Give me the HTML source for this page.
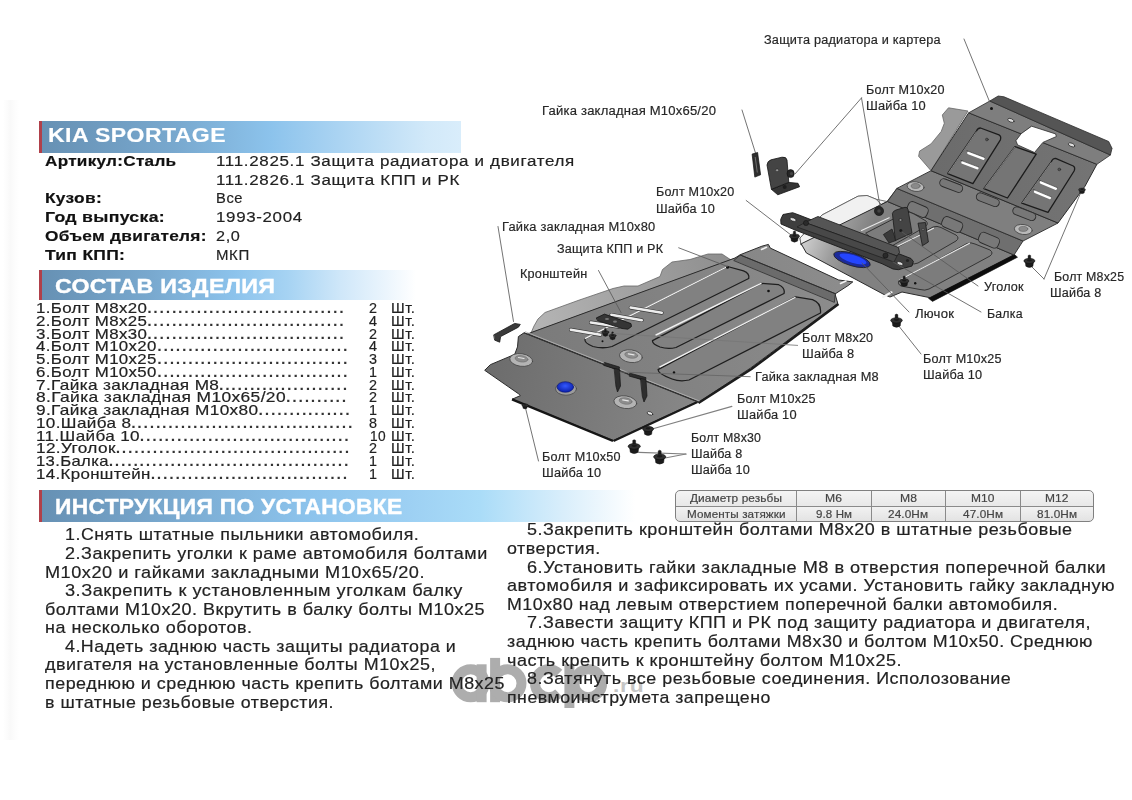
<!DOCTYPE html>
<html lang="ru"><head><meta charset="utf-8"><title>KIA SPORTAGE</title>
<style>
html,body{margin:0;padding:0;background:#fff;}
body{width:1132px;height:800px;position:relative;overflow:hidden;font-family:"Liberation Sans",sans-serif;}
.t{position:absolute;white-space:pre;margin:0;padding:0;transform-origin:0 0;}
.bar{position:absolute;}
.bar i{position:absolute;left:0;top:0;bottom:0;width:3px;background:#b0404a;}
#dg{position:absolute;left:0;top:0;width:1132px;height:800px;}
.t{-webkit-text-stroke:0.18px currentColor;}
.hs{-webkit-text-stroke:0.4px #fff;}
#tbl{position:absolute;left:675px;top:489.5px;width:418.5px;height:32.5px;border:1.2px solid #808080;border-radius:5px;background:linear-gradient(180deg,#f4f4f4 0%,#e8e8e8 48%,#f2f2f2 52%,#e3e3e3 100%);box-sizing:border-box;overflow:hidden;}
#tbl b{position:absolute;background:#8a8a8a;}
#wm2{position:absolute;left:612.5px;top:676.3px;font-size:19px;line-height:20px;font-weight:bold;letter-spacing:0.6px;color:#c6c6c6;transform-origin:0 0;transform:scaleX(1.2);}
#txt{position:absolute;left:0;top:0;width:1132px;height:800px;will-change:transform;}
</style></head><body>
<div id="shd" style="position:absolute;left:3px;top:100px;width:16px;height:640px;background:linear-gradient(90deg,#fff 0%,#f9f9f9 45%,#fcfcfc 70%,#fff 100%);"></div>
<div class="bar" style="left:39px;top:121px;width:422px;height:31.6px;background:linear-gradient(90deg,#6690b3 0%,#78a8ce 32%,#8cc3ec 55%,#b4d9f4 76%,#d2e9f9 92%,#d9edfb 100%);"><i></i></div>
<div class="bar" style="left:38.5px;top:269.5px;width:377.5px;height:30.7px;background:linear-gradient(90deg,#6690b3 0%,#79a9cf 30%,#8cc3ec 52%,#a6d3f3 66%,#cfe7f9 80%,#ebf5fd 92%,#fff 100%);"><i></i></div>
<div class="bar" style="left:39px;top:490.2px;width:596px;height:31.4px;background:linear-gradient(90deg,#6690b3 0%,#79a9cf 22%,#8cc3ec 45%,#9dd0f3 62%,#aadcf8 74%,#d9eefb 88%,#fff 100%);"><i></i></div>
<div id="tbl"><b style="left:0;right:0;top:15.3px;height:1.2px;"></b><b style="left:119.8px;top:0;bottom:0;width:1.2px;"></b><b style="left:194.5px;top:0;bottom:0;width:1.2px;"></b><b style="left:269.1px;top:0;bottom:0;width:1.2px;"></b><b style="left:344.2px;top:0;bottom:0;width:1.2px;"></b></div>
<svg id="wmk" viewBox="0 0 1132 800" width="1132" height="800" style="position:absolute;left:0;top:0;">
<g fill="none" stroke="#adadad" stroke-width="10">
<circle cx="470.65" cy="683.25" r="13.95"/>
<path d="M481.6,664.3 V702.2"/>
<path d="M495.1,657.9 V702.2"/>
<circle cx="507.55" cy="683.25" r="13.95"/>
<path d="M558.8,673.4 A13.95,13.95 0 1 0 558.8,693.1"/>
<path d="M569.4,664.3 V708"/>
<circle cx="588.25" cy="683.25" r="13.95"/>
</g>
</svg>
<div id="wm2">.ru</div>
<svg id="dg" viewBox="0 0 1132 800" width="1132" height="800">
<defs>
<linearGradient id="gFront" x1="485" y1="370" x2="700" y2="400" gradientUnits="userSpaceOnUse"><stop offset="0" stop-color="#6c6c6c"/><stop offset="0.5" stop-color="#7a7a7a"/><stop offset="1" stop-color="#888"/></linearGradient>
<linearGradient id="gRear" x1="540" y1="340" x2="840" y2="280" gradientUnits="userSpaceOnUse"><stop offset="0" stop-color="#7b7b7b"/><stop offset="1" stop-color="#8c8c8c"/></linearGradient>
<linearGradient id="gTW" x1="535" y1="320" x2="730" y2="255" gradientUnits="userSpaceOnUse"><stop offset="0" stop-color="#b4b4b4"/><stop offset="1" stop-color="#8e8e8e"/></linearGradient>
<linearGradient id="gInc" x1="931" y1="170" x2="1095" y2="165" gradientUnits="userSpaceOnUse"><stop offset="0" stop-color="#6b6b6b"/><stop offset="1" stop-color="#747474"/></linearGradient>
<radialGradient id="gBlue" cx="0.5" cy="0.4" r="0.6"><stop offset="0" stop-color="#3358ff"/><stop offset="1" stop-color="#0a1ea8"/></radialGradient>
<linearGradient id="gFlatC" x1="800" y1="243" x2="856" y2="266" gradientUnits="userSpaceOnUse"><stop offset="0" stop-color="#d2d2d2"/><stop offset="0.55" stop-color="#9c9c9c"/><stop offset="1" stop-color="#818181"/></linearGradient>
</defs>
<!-- ================= LOWER PLATE (KPP guard) ================= -->
<g id="lower" stroke-linejoin="round">
<!-- translucent side wall -->
<path d="M531,333 L534,326 L538,319 L545,312.5 L578,300.5 L613,288.5 L624,286 L638,286 L660,276.5 L662.5,269.5 L672,262 L690,259.5 L708,254 L722,254 L731,260 L736,258 Z" fill="url(#gTW)" stroke="#666" stroke-width="0.8"/>
<!-- rear plate -->
<path d="M527.5,334.2 L531,332.6 L735,258 L740.3,254.7 L761.9,246.2 L768.4,244.4 L770.3,248.1 L838.7,280 L852.8,281.9 L848,285.6 L835,294 L837.8,303.4 L750.6,368 L698.7,402.2 Z" fill="url(#gRear)" stroke="#2b2b2b" stroke-width="1"/>
<path d="M838.5,304 L751.5,369 L698.5,403" stroke="#1c1c1c" stroke-width="2.4" fill="none"/>
<!-- front plate -->
<path d="M524,332.8 L697.5,401.5 L613.5,440.5 L512,399.3 L520.4,395.6 L518.4,393.7 L484.7,370.3 L490.3,364.7 L514.7,354.4 L517.5,346.9 L518.4,336.6 Z" fill="url(#gFront)" stroke="#2b2b2b" stroke-width="1"/>
<!-- thick bottom edge -->
<path d="M512,399.3 L613,441" stroke="#151515" stroke-width="2.4" fill="none"/>
<path d="M613.5,441 L697.5,402" stroke="#1a1a1a" stroke-width="2" fill="none"/>
<!-- fold line -->
<path d="M524,332.8 L698.7,402.2" stroke="#333" stroke-width="1.2" fill="none"/>
<path d="M525,331.6 L699.5,401" stroke="#b5b5b5" stroke-width="0.8" fill="none"/>
</g>
<!-- ===== lower plate details ===== -->
<g id="lowerD" stroke-linejoin="round" stroke-linecap="round">
<!-- flap -->
<path d="M734,260.3 L740.3,255 L835.3,293.7 L834.4,302 Z" fill="#6b6b6b" stroke="#2b2b2b" stroke-width="0.8"/>
<path d="M740.3,255 L835.3,293.7" stroke="#2b2b2b" stroke-width="0.9" fill="none"/>
<path d="M761.5,249.5 L766.5,247.3" stroke="#f2f2f2" stroke-width="1.6" fill="none"/>
<path d="M840.5,283.5 L846,281" stroke="#f2f2f2" stroke-width="1.6" fill="none"/>
<!-- rails -->
<path d="M585,339 L727.5,266.5 L743.5,270.8 Q750,273.5 748.7,278.5 L612,346.5 Q603,349 593,346.5 Q584,343 585,339 Z" fill="#818181" stroke="#1e1e1e" stroke-width="1.25"/>
<path d="M652.5,340.6 L761,283.4 L778.7,284.7 Q785.5,288 784,293.5 L676,347.5 Q668,349.5 660,347 Q652,344 652.5,340.6 Z" fill="#818181" stroke="#1e1e1e" stroke-width="1.25"/>
<path d="M658,369.6 L795.6,296.9 L812.5,299.7 Q821.5,303 820.5,313 L689,380 Q680,382 672,379 Q658,374 658,369.6 Z" fill="#818181" stroke="#1e1e1e" stroke-width="1.25"/>
<g stroke="#f0f0f0" stroke-width="1.4" fill="none">
<path d="M585.5,338.3 L727.5,266.5"/><path d="M656,335 L761,283.4"/><path d="M660,366.8 L795,297.5"/>
</g>
<circle cx="727.5" cy="267.3" r="1.5" fill="#111"/>
<circle cx="768.5" cy="291" r="1.3" fill="#111"/>
<circle cx="674" cy="372.5" r="1.2" fill="#111"/>
<!-- bracket slots (light) -->
<g stroke="#3a3a3a" stroke-width="3.8" fill="none">
<path d="M570.8,329.7 L600.3,334.8"/><path d="M590.8,322.5 L618.8,326.8"/><path d="M611.3,314.8 L641.8,320.2"/><path d="M630.6,307.6 L661.8,312.8"/>
</g>
<g stroke="#ededed" stroke-width="2.5" fill="none">
<path d="M570.8,329.7 L600.3,334.8"/><path d="M590.8,322.5 L618.8,326.8"/><path d="M611.3,314.8 L641.8,320.2"/><path d="M630.6,307.6 L661.8,312.8"/>
</g>
<!-- bracket -->
<path d="M596.6,317.8 L604.5,314.1 L631,323.6 L631.5,326.5 L627.9,329.2 L622,328.5 L598,320.8 Z" fill="#353535" stroke="#141414" stroke-width="0.8"/>
<ellipse cx="607" cy="319" rx="2" ry="1.1" fill="#777"/><ellipse cx="615" cy="321.7" rx="2" ry="1.1" fill="#777"/>
<g transform="translate(605.4 332.5) scale(0.62)"><path d="M-1.4,-2 L-1.4,-6.3 Q0,-7.6 1.4,-6.3 L1.4,-2 Z" fill="#1c1c1c" stroke="#111" stroke-width="0.4"/><path d="M-4.3,0.5 L4.3,0.5 L3.7,5 Q0,7.6 -3.7,5 Z" fill="#1b1b1b" stroke="#0c0c0c" stroke-width="0.5"/><ellipse cx="0" cy="-0.6" rx="5.8" ry="2.7" fill="#303030" stroke="#0f0f0f" stroke-width="0.6"/><ellipse cx="0" cy="-1.2" rx="2.6" ry="1.1" fill="#1a1a1a"/></g><g transform="translate(612.6 336) scale(0.62)"><path d="M-1.4,-2 L-1.4,-6.3 Q0,-7.6 1.4,-6.3 L1.4,-2 Z" fill="#1c1c1c" stroke="#111" stroke-width="0.4"/><path d="M-4.3,0.5 L4.3,0.5 L3.7,5 Q0,7.6 -3.7,5 Z" fill="#1b1b1b" stroke="#0c0c0c" stroke-width="0.5"/><ellipse cx="0" cy="-0.6" rx="5.8" ry="2.7" fill="#303030" stroke="#0f0f0f" stroke-width="0.6"/><ellipse cx="0" cy="-1.2" rx="2.6" ry="1.1" fill="#1a1a1a"/></g>
<circle cx="602.5" cy="341.3" r="1" fill="#111"/>
<!-- bumps -->
<g>
<ellipse cx="521.2" cy="360" rx="11.5" ry="6.3" transform="rotate(8 521.2 360)" fill="#b4b4b4" stroke="#444" stroke-width="0.8"/>
<ellipse cx="521.5" cy="358.8" rx="6.5" ry="3.2" transform="rotate(8 521.5 358.8)" fill="#8d8d8d" stroke="#666" stroke-width="0.5"/>
<path d="M518.5,357.5 L524,358.5" stroke="#e6e6e6" stroke-width="1.2"/>
<ellipse cx="630.9" cy="356.2" rx="11.5" ry="6.3" transform="rotate(8 630.9 356.2)" fill="#b4b4b4" stroke="#444" stroke-width="0.8"/>
<ellipse cx="631.2" cy="355" rx="6.5" ry="3.2" transform="rotate(8 631.2 355)" fill="#8d8d8d" stroke="#666" stroke-width="0.5"/>
<path d="M628.3,353.8 L634,354.8" stroke="#e6e6e6" stroke-width="1.2"/>
<ellipse cx="625.3" cy="402.2" rx="11.5" ry="6.3" transform="rotate(8 625.3 402.2)" fill="#b4b4b4" stroke="#444" stroke-width="0.8"/>
<ellipse cx="625.6" cy="401" rx="6.5" ry="3.2" transform="rotate(8 625.6 401)" fill="#8d8d8d" stroke="#666" stroke-width="0.5"/>
<path d="M622.7,399.8 L628.3,400.8" stroke="#e6e6e6" stroke-width="1.2"/>
</g>
<!-- blue plug -->
<ellipse cx="566" cy="388.8" rx="10.5" ry="6.4" fill="#9c9c9c" stroke="#444" stroke-width="0.7"/>
<ellipse cx="565.3" cy="387" rx="8.3" ry="5.3" fill="url(#gBlue)" stroke="#0a1470" stroke-width="0.6"/>
<!-- clips -->
<g fill="#2e2e2e" stroke="#161616" stroke-width="0.7">
<path d="M604.6,362.5 L619.5,367 L619,370 L604,365.5 Z"/>
<path d="M614.5,368.5 L619.5,369.5 L620.5,386 L617.5,392 L616,386.5 Z"/>
<path d="M630,373.2 L646,377.6 L645.5,380.6 L629.5,376.2 Z"/>
<path d="M640.8,378.5 L646,379.5 L647,396 L644,402 L642.4,396.5 Z"/>
</g>
<ellipse cx="650" cy="413.4" rx="3" ry="1.5" transform="rotate(20 650 413.4)" fill="#eee" stroke="#222" stroke-width="0.7"/>
<!-- detached nut M10x80 -->
<path d="M494,334.7 L514.7,323.4 L520.3,324.4 L518.4,327.2 L500.6,336.6 L499.7,342.2 L495,340.3 Z" fill="#3a3a3a" stroke="#161616" stroke-width="0.8"/>
</g>
<!-- ================= UPPER PLATE (radiator guard) ================= -->
<g id="upper" stroke-linejoin="round">
<!-- translucent wall near beam -->
<path d="M801,245 L800,238 L822,215 L858,196.2 L867,195.5 L876,199.2 L887,201.5 L895,192 L897,188.4 L887,201.5 Z" fill="#f3f3f3" stroke="#555" stroke-width="0.8"/>
<path d="M801,245 L800,238 L822,215 L858,196.2 L867,195.5 L876,199.2 L884,207 L887.5,201.5 L840,226 Z" fill="#f1f1f1" stroke="#555" stroke-width="0.8"/>
<!-- lower flat C -->
<path d="M887.5,201.5 L1014,255 L930.5,297.8 L902,292 L890,297 L884,294.5 L806.4,253 L801.2,243.8 Z" fill="url(#gFlatC)" stroke="#2b2b2b" stroke-width="1"/>
<path d="M1014.5,254.5 L1017.5,257.2 L932.5,301.4 L928.5,298.3 Z" fill="#0d0d0d" stroke="#0d0d0d" stroke-width="0.6"/>
<!-- band B (riser) -->
<path d="M896.9,188.4 L1023,241 L1014,255 L887.5,201.5 Z" fill="#6f6f6f" stroke="#2b2b2b" stroke-width="0.9"/>
<!-- band A (shelf) -->
<path d="M931,170.7 L1058,223 L1023,241 L896.9,188.4 Z" fill="#7f7f7f" stroke="#2b2b2b" stroke-width="0.9"/>
<!-- translucent side -->
<path d="M968,111 L948.5,107.8 L942.3,115 L944.3,123.3 L941.2,131.5 L931,143.9 L919.6,151.1 L918.6,156.3 L931,170.7 Z" fill="#9a9a9a" stroke="#666" stroke-width="0.8"/>
<!-- inclined face -->
<path d="M968.7,112.8 L1096.9,164.3 L1085,186.2 L1058,223 L931,170.7 Z" fill="url(#gInc)" stroke="#2b2b2b" stroke-width="1"/>
<!-- mid band -->
<path d="M968.7,112.8 L989.8,101 L1110.4,155 L1096.9,164.3 Z" fill="#7e7e7e" stroke="#2b2b2b" stroke-width="0.8"/>
<!-- top dark band -->
<path d="M989.8,101 L998.2,96 L1004,96.8 L1108.7,141.5 L1112,148.3 L1110.4,155 Z" fill="#555" stroke="#2b2b2b" stroke-width="0.8"/>
</g>
<!-- ===== upper plate details ===== -->
<g id="upperD" stroke-linejoin="round" stroke-linecap="round">
<!-- notch -->
<path d="M1031.9,126.3 L1055.6,133.9 L1056.4,136.5 L1042.9,142.4 L1034.5,152.5 L1017.6,144.9 L1015.9,140.7 L1021,133.9 Z" fill="#fff" stroke="#2b2b2b" stroke-width="0.8"/>
<ellipse cx="1010.9" cy="120.4" rx="3.4" ry="1.7" transform="rotate(22 1010.9 120.4)" fill="#ddd" stroke="#222" stroke-width="0.7"/>
<ellipse cx="1071.6" cy="144.9" rx="3.4" ry="1.7" transform="rotate(22 1071.6 144.9)" fill="#ddd" stroke="#222" stroke-width="0.7"/>
<circle cx="991.5" cy="108.6" r="1.5" fill="#111"/>
<!-- panels -->
<path d="M976.3,131.4 Q977.5,128 980.5,128 L999,134.8 Q1001.5,136 1000.4,139.8 L972.9,183.7 L947.6,173.6 Z" fill="#757575" stroke="#1c1c1c" stroke-width="1.3"/>
<path d="M976.3,131.9 L948.3,173.2" stroke="#aaa" stroke-width="0.7" fill="none"/>
<path d="M1015,146.6 L1036.2,154.2 L1007.5,198 L983.9,188.7 Z" fill="#757575" stroke="#1c1c1c" stroke-width="1.3"/>
<path d="M1014.6,147.4 L984.6,188.2" stroke="#aaa" stroke-width="0.7" fill="none"/>
<path d="M1051.3,161.8 Q1052.5,158.4 1055.6,158.4 L1073.3,166 Q1075.6,167.5 1074.1,171 L1048,212.4 L1021.8,203.1 Z" fill="#757575" stroke="#1c1c1c" stroke-width="1.3"/>
<path d="M1051.2,162.6 L1022.6,202.6" stroke="#aaa" stroke-width="0.7" fill="none"/>
<g stroke="#fff" stroke-width="2.9" fill="none">
<path d="M968.6,152.8 L983.2,158.4"/><path d="M962.7,162.4 L977.2,167.9"/>
<path d="M1041.2,182.3 L1055.6,188.4"/><path d="M1035.3,191.6 L1049.7,197.7"/>
</g>
<g stroke="#222" stroke-width="0.6" fill="none">
<path d="M967,150.8 L984.5,157.4"/><path d="M961,160.4 L978.5,167"/>
<path d="M1039.6,180.3 L1057,187.5"/><path d="M1033.7,189.6 L1051,196.8"/>
</g>
<circle cx="986.9" cy="139.5" r="1.4" fill="#555" stroke="#222" stroke-width="0.5"/>
<circle cx="1059.3" cy="169.4" r="1.4" fill="#555" stroke="#222" stroke-width="0.5"/>
<!-- band A slots -->
<g fill="#777" stroke="#2b2b2b" stroke-width="0.9">
<rect x="939.2" y="181.6" width="24" height="8" rx="4" transform="rotate(21 951.2 185.6)"/>
<rect x="975.8" y="195.7" width="24" height="8" rx="4" transform="rotate(21 987.8 199.7)"/>
<rect x="1012.3" y="209.7" width="24" height="8" rx="4" transform="rotate(21 1024.3 213.7)"/>
</g>
<!-- band B slots -->
<g fill="#787878" stroke="#2b2b2b" stroke-width="0.9">
<rect x="907.2" y="204" width="21" height="11" rx="4" transform="rotate(23 917.7 209.5)"/>
<rect x="941.7" y="219" width="21" height="11" rx="4" transform="rotate(23 952.2 224.5)"/>
<rect x="978.5" y="234.7" width="21" height="11" rx="4" transform="rotate(23 989 240.2)"/>
</g>
<!-- bumps -->
<g>
<ellipse cx="915.6" cy="186.6" rx="8.5" ry="4.8" transform="rotate(8 915.6 186.6)" fill="#b9b9b9" stroke="#444" stroke-width="0.8"/>
<ellipse cx="915.6" cy="186" rx="4.5" ry="2.5" fill="#8a8a8a" stroke="#555" stroke-width="0.5"/>
<ellipse cx="1023.3" cy="229.5" rx="9" ry="5" transform="rotate(8 1023.3 229.5)" fill="#b9b9b9" stroke="#444" stroke-width="0.8"/>
<ellipse cx="1023.3" cy="228.9" rx="4.5" ry="2.5" fill="#8a8a8a" stroke="#555" stroke-width="0.5"/>
</g>
</g>
<!-- ===== flat C rails ===== -->
<g id="flatC" fill="none" stroke-linejoin="round" stroke-linecap="round">
<path d="M866,233 L905,213 Q910,211 914,214 L926,221 Q929,224 925,227 L890,247 Q886,249 882,247 Z" fill="#7c7c7c" stroke="#2b2b2b" stroke-width="0.9"/>
<path d="M896,248 L933,227 Q937,225.5 941,227.5 L956,235 Q960,238 956,241 L918,263 Q914,265 910,263 L897,254 Q894,251 896,248 Z" fill="#7c7c7c" stroke="#2b2b2b" stroke-width="0.9"/>
<path d="M899,281 L967,243.5 Q971,242 975,244 L990,250 Q994,253 990,256 L929,289 Q925,291 920,289.5 L901,286 Q897,284 899,281 Z" fill="#7c7c7c" stroke="#2b2b2b" stroke-width="0.9"/>
<path d="M861.5,230.5 L889.2,217.7" stroke="#e8e8e8" stroke-width="1.1"/>
<path d="M897.5,246.2 L933.5,228.2" stroke="#e8e8e8" stroke-width="1.1"/>
<path d="M899.7,280 L969.5,243.2" stroke="#e8e8e8" stroke-width="1.1"/>
<!-- tab slots -->
<path d="M883,297 L891.5,292.3" stroke="#f4f4f4" stroke-width="2.2"/>
<path d="M883,297 L891.5,292.3" stroke="#333" stroke-width="3.4" stroke-opacity="0"/>
<circle cx="915.2" cy="283.2" r="1.2" fill="#111"/>
</g>
<!-- ===== beam, bracket, clip, hatch ===== -->
<g id="beam" stroke-linejoin="round">
<!-- blue hatch -->
<ellipse cx="852" cy="259.5" rx="19" ry="6.2" transform="rotate(17 852 259.5)" fill="#1b2a9a" stroke="#222" stroke-width="0.8"/>
<ellipse cx="853" cy="259" rx="14" ry="3.8" transform="rotate(17 853 259)" fill="#2445ff"/>
<!-- beam lower plate -->
<path d="M780.7,219.5 L783,214.5 L792.7,212.7 L799,215 L911,258.5 L913.4,261.5 L912,266 L898.4,269.7 L893,269 L882,263.7 L795,230 L781,224 Z" fill="#3e3e3e" stroke="#1a1a1a" stroke-width="0.9"/>
<!-- beam upper rail -->
<path d="M814.5,218 L818,216.5 L898.4,247.5 L899.5,252.5 L897,256 L805,222.5 Z" fill="#555" stroke="#1a1a1a" stroke-width="0.8"/>
<path d="M805,222.5 L897,256 L894,262 L797,227 Z" fill="#484848" stroke="#1a1a1a" stroke-width="0.6"/>
<ellipse cx="793" cy="219.5" rx="3.2" ry="1.6" transform="rotate(20 793 219.5)" fill="#ddd" stroke="#111" stroke-width="0.6"/>
<ellipse cx="900" cy="263.5" rx="3.2" ry="1.6" transform="rotate(20 900 263.5)" fill="#ddd" stroke="#111" stroke-width="0.6"/>
<circle cx="806" cy="223" r="2.6" fill="#2a2a2a" stroke="#111" stroke-width="0.5"/>
<circle cx="885.5" cy="255.5" r="2.6" fill="#2a2a2a" stroke="#111" stroke-width="0.5"/>
<circle cx="907.5" cy="260.5" r="1.6" fill="#222"/>
<!-- angle bracket (Уголок) -->
<path d="M883.4,234.5 L892,229 L896,240.5 L889,243 Z" fill="#3a3a3a" stroke="#1a1a1a" stroke-width="0.7"/>
<path d="M892.4,213.5 Q893,211 896,210 L905,207.3 Q907.6,207 908,209.5 L912,233 L895.4,240.5 Z" fill="#444" stroke="#1a1a1a" stroke-width="0.8"/>
<circle cx="900.5" cy="220" r="1.5" fill="#888" stroke="#111" stroke-width="0.5"/>
<circle cx="900.8" cy="230.5" r="1.5" fill="#1a1a1a"/>
<!-- thin clip -->
<path d="M918,223.2 L925.4,222.5 L928.4,242 L922.4,245.7 Z" fill="#4a4a4a" stroke="#1a1a1a" stroke-width="0.8"/>
<circle cx="923" cy="229.5" r="1.2" fill="#777" stroke="#111" stroke-width="0.4"/>
</g>
<!-- ===== loose parts, bolts, leaders ===== -->
<g id="leaders" stroke="#5a5a5a" stroke-width="0.85" fill="none" stroke-linecap="round">
<path d="M964,39 L989.5,101.5"/>
<path d="M742,110 L755.5,153"/>
<path d="M861.5,97.9 L795,174"/><path d="M861.5,97.9 L880.5,209"/>
<path d="M746.2,200.5 L791,235"/>
<path d="M498,226.5 L513.5,321.5"/>
<path d="M598.5,270.5 L621,312.5"/>
<path d="M678.7,247.8 L727.5,266.5"/>
<path d="M525,406 L538.5,461"/>
<path d="M797.6,345.4 L613,333.5" stroke="#777"/>
<path d="M750.2,376.7 L620,372" stroke="#666"/>
<path d="M731.9,406.4 L653,428.7" stroke="#808080" stroke-width="1.1"/>
<path d="M686,454 L638.7,452.4" stroke="#808080" stroke-width="1.1"/><path d="M686,454 L665,458" stroke="#808080" stroke-width="1.1"/>
<path d="M1044,279 L1081,192"/><path d="M1044,279 L1030,265"/>
<path d="M978,286 L902,232"/>
<path d="M909,312 L862,263"/>
<path d="M981,312 L893,262"/>
<path d="M921,354 L898,325"/>
</g>
<g id="loose" stroke-linejoin="round">
<!-- nut M10x65/20 -->
<path d="M752.1,154.1 L757.6,152.5 L760.6,174.8 L754.8,177.1 Z" fill="#2e2e2e" stroke="#111" stroke-width="0.7"/>
<path d="M755.2,157 L757.3,172.5" stroke="#777" stroke-width="0.9" fill="none"/>
<!-- angle bracket top-left -->
<path d="M771.4,189.3 L777.8,194.8 L799.6,186.7 L798,183.3 L788.8,182.4 Z" fill="#343434" stroke="#141414" stroke-width="0.8"/>
<path d="M767,165 Q767.3,161.2 771,159.8 L782,157.2 Q786.4,156.6 787,160 L788.8,182.4 L771.4,189.3 Z" fill="#444" stroke="#141414" stroke-width="0.8"/>
<circle cx="777.1" cy="170.2" r="1.3" fill="#aaa" stroke="#111" stroke-width="0.4"/>
<circle cx="784.7" cy="187" r="2" fill="#1e1e1e"/>
<ellipse cx="790.6" cy="173.6" rx="3.6" ry="4" fill="#262626" stroke="#111" stroke-width="0.6"/><circle cx="791.5" cy="173.6" r="1.6" fill="#444"/>
<circle cx="879" cy="211" r="4.6" fill="#262626" stroke="#111" stroke-width="0.6"/><circle cx="879" cy="211" r="1.8" fill="#444"/>
<g transform="translate(794.5 236.8) scale(0.85)"><path d="M-1.4,-2 L-1.4,-6.3 Q0,-7.6 1.4,-6.3 L1.4,-2 Z" fill="#1c1c1c" stroke="#111" stroke-width="0.4"/><path d="M-4.3,0.5 L4.3,0.5 L3.7,5 Q0,7.6 -3.7,5 Z" fill="#1b1b1b" stroke="#0c0c0c" stroke-width="0.5"/><ellipse cx="0" cy="-0.6" rx="5.8" ry="2.7" fill="#303030" stroke="#0f0f0f" stroke-width="0.6"/><ellipse cx="0" cy="-1.2" rx="2.6" ry="1.1" fill="#1a1a1a"/></g>
<g transform="translate(904.2 281.5) scale(0.8)"><path d="M-1.4,-2 L-1.4,-6.3 Q0,-7.6 1.4,-6.3 L1.4,-2 Z" fill="#1c1c1c" stroke="#111" stroke-width="0.4"/><path d="M-4.3,0.5 L4.3,0.5 L3.7,5 Q0,7.6 -3.7,5 Z" fill="#1b1b1b" stroke="#0c0c0c" stroke-width="0.5"/><ellipse cx="0" cy="-0.6" rx="5.8" ry="2.7" fill="#303030" stroke="#0f0f0f" stroke-width="0.6"/><ellipse cx="0" cy="-1.2" rx="2.6" ry="1.1" fill="#1a1a1a"/></g>
<g transform="translate(1029.4 261.5) scale(0.95)"><path d="M-1.4,-2 L-1.4,-6.3 Q0,-7.6 1.4,-6.3 L1.4,-2 Z" fill="#1c1c1c" stroke="#111" stroke-width="0.4"/><path d="M-4.3,0.5 L4.3,0.5 L3.7,5 Q0,7.6 -3.7,5 Z" fill="#1b1b1b" stroke="#0c0c0c" stroke-width="0.5"/><ellipse cx="0" cy="-0.6" rx="5.8" ry="2.7" fill="#303030" stroke="#0f0f0f" stroke-width="0.6"/><ellipse cx="0" cy="-1.2" rx="2.6" ry="1.1" fill="#1a1a1a"/></g>
<g transform="translate(896.5 321) scale(1.0)"><path d="M-1.4,-2 L-1.4,-6.3 Q0,-7.6 1.4,-6.3 L1.4,-2 Z" fill="#1c1c1c" stroke="#111" stroke-width="0.4"/><path d="M-4.3,0.5 L4.3,0.5 L3.7,5 Q0,7.6 -3.7,5 Z" fill="#1b1b1b" stroke="#0c0c0c" stroke-width="0.5"/><ellipse cx="0" cy="-0.6" rx="5.8" ry="2.7" fill="#303030" stroke="#0f0f0f" stroke-width="0.6"/><ellipse cx="0" cy="-1.2" rx="2.6" ry="1.1" fill="#1a1a1a"/></g>
<g transform="translate(1082 190) scale(0.6)"><path d="M-4.3,0.5 L4.3,0.5 L3.7,5 Q0,7.6 -3.7,5 Z" fill="#1b1b1b" stroke="#0c0c0c" stroke-width="0.5"/><ellipse cx="0" cy="-0.6" rx="5.8" ry="2.7" fill="#303030" stroke="#0f0f0f" stroke-width="0.6"/><ellipse cx="0" cy="-1.2" rx="2.6" ry="1.1" fill="#1a1a1a"/></g>
<g transform="translate(648.1 429.5) scale(0.95)"><path d="M-4.3,0.5 L4.3,0.5 L3.7,5 Q0,7.6 -3.7,5 Z" fill="#1b1b1b" stroke="#0c0c0c" stroke-width="0.5"/><ellipse cx="0" cy="-0.6" rx="5.8" ry="2.7" fill="#303030" stroke="#0f0f0f" stroke-width="0.6"/><ellipse cx="0" cy="-1.2" rx="2.6" ry="1.1" fill="#1a1a1a"/></g>
<g transform="translate(634.2 447) scale(1.05)"><path d="M-1.4,-2 L-1.4,-6.3 Q0,-7.6 1.4,-6.3 L1.4,-2 Z" fill="#1c1c1c" stroke="#111" stroke-width="0.4"/><path d="M-4.3,0.5 L4.3,0.5 L3.7,5 Q0,7.6 -3.7,5 Z" fill="#1b1b1b" stroke="#0c0c0c" stroke-width="0.5"/><ellipse cx="0" cy="-0.6" rx="5.8" ry="2.7" fill="#303030" stroke="#0f0f0f" stroke-width="0.6"/><ellipse cx="0" cy="-1.2" rx="2.6" ry="1.1" fill="#1a1a1a"/></g>
<g transform="translate(659.7 457.5) scale(1.05)"><path d="M-1.4,-2 L-1.4,-6.3 Q0,-7.6 1.4,-6.3 L1.4,-2 Z" fill="#1c1c1c" stroke="#111" stroke-width="0.4"/><path d="M-4.3,0.5 L4.3,0.5 L3.7,5 Q0,7.6 -3.7,5 Z" fill="#1b1b1b" stroke="#0c0c0c" stroke-width="0.5"/><ellipse cx="0" cy="-0.6" rx="5.8" ry="2.7" fill="#303030" stroke="#0f0f0f" stroke-width="0.6"/><ellipse cx="0" cy="-1.2" rx="2.6" ry="1.1" fill="#1a1a1a"/></g>
<g transform="translate(525 405.5) scale(0.55)"><path d="M-4.3,0.5 L4.3,0.5 L3.7,5 Q0,7.6 -3.7,5 Z" fill="#1b1b1b" stroke="#0c0c0c" stroke-width="0.5"/><ellipse cx="0" cy="-0.6" rx="5.8" ry="2.7" fill="#303030" stroke="#0f0f0f" stroke-width="0.6"/><ellipse cx="0" cy="-1.2" rx="2.6" ry="1.1" fill="#1a1a1a"/></g>
</g>
</svg>

<div id="txt">
<div class="t h" style="left:48.4px;top:124px;font-size:19.9px;line-height:22px;letter-spacing:0.400px;color:#fff;transform:scaleX(1.1558);font-weight:bold;">KIA SPORTAGE</div>
<div class="t h hs" style="left:55.3px;top:274px;font-size:20.8px;line-height:23px;letter-spacing:0.300px;color:#fff;transform:scaleX(1.1141);font-weight:bold;">СОСТАВ ИЗДЕЛИЯ</div>
<div class="t h hs" style="left:55.2px;top:494px;font-size:21.8px;line-height:25px;letter-spacing:0.300px;color:#fff;transform:scaleX(1.0449);font-weight:bold;">ИНСТРУКЦИЯ ПО УСТАНОВКЕ</div>
<div class="t" style="left:45.4px;top:152px;font-size:15.2px;line-height:17px;letter-spacing:0.250px;color:#111;transform:scaleX(1.1281);font-weight:bold;">Артикул:Сталь</div>
<div class="t" style="left:45.4px;top:189px;font-size:15.2px;line-height:17px;letter-spacing:0.250px;color:#111;transform:scaleX(1.1420);font-weight:bold;">Кузов:</div>
<div class="t" style="left:45.4px;top:208px;font-size:15.2px;line-height:17px;letter-spacing:0.250px;color:#111;transform:scaleX(1.1662);font-weight:bold;">Год выпуска:</div>
<div class="t" style="left:45.4px;top:227px;font-size:15.2px;line-height:17px;letter-spacing:0.250px;color:#111;transform:scaleX(1.1367);font-weight:bold;">Объем двигателя:</div>
<div class="t" style="left:45.4px;top:246px;font-size:15.2px;line-height:17px;letter-spacing:0.250px;color:#111;transform:scaleX(1.1528);font-weight:bold;">Тип КПП:</div>
<div class="t" style="left:215.5px;top:152px;font-size:15.2px;line-height:17px;letter-spacing:0.600px;color:#222;transform:scaleX(1.1168);">111.2825.1 Защита радиатора и двигателя</div>
<div class="t" style="left:215.5px;top:171px;font-size:15.2px;line-height:17px;letter-spacing:0.600px;color:#222;transform:scaleX(1.1181);">111.2826.1 Защита КПП и РК</div>
<div class="t" style="left:215.5px;top:189px;font-size:15.2px;line-height:17px;letter-spacing:0.600px;color:#222;transform:scaleX(0.9674);">Все</div>
<div class="t" style="left:215.5px;top:208px;font-size:15.2px;line-height:17px;letter-spacing:0.600px;color:#222;transform:scaleX(1.1124);">1993-2004</div>
<div class="t" style="left:215.5px;top:227px;font-size:15.2px;line-height:17px;letter-spacing:0.600px;color:#222;transform:scaleX(1.0703);">2,0</div>
<div class="t" style="left:215.5px;top:246px;font-size:15.2px;line-height:17px;letter-spacing:0.600px;color:#222;transform:scaleX(0.9869);">МКП</div>
<div class="t" style="left:35.6px;top:300px;font-size:14.2px;line-height:16px;letter-spacing:0.300px;color:#222;transform:scaleX(1.1884);">1.Болт М8х20</div>
<div class="t" style="left:147.4px;top:300px;font-size:14.2px;line-height:16px;letter-spacing:2.252px;color:#333;font-weight:bold;">................................</div>
<div class="t" style="left:368.6px;top:300px;font-size:14.2px;line-height:16px;letter-spacing:0.000px;color:#222;transform:scaleX(1.0130);">2</div>
<div class="t" style="left:390.8px;top:300px;font-size:14.2px;line-height:16px;letter-spacing:0.450px;color:#222;transform:scaleX(1.0531);">Шт.</div>
<div class="t" style="left:35.6px;top:313px;font-size:14.2px;line-height:16px;letter-spacing:0.300px;color:#222;transform:scaleX(1.1884);">2.Болт М8х25</div>
<div class="t" style="left:147.4px;top:313px;font-size:14.2px;line-height:16px;letter-spacing:2.252px;color:#333;font-weight:bold;">................................</div>
<div class="t" style="left:368.6px;top:313px;font-size:14.2px;line-height:16px;letter-spacing:0.000px;color:#222;transform:scaleX(1.0130);">4</div>
<div class="t" style="left:390.8px;top:313px;font-size:14.2px;line-height:16px;letter-spacing:0.450px;color:#222;transform:scaleX(1.0531);">Шт.</div>
<div class="t" style="left:35.6px;top:326px;font-size:14.2px;line-height:16px;letter-spacing:0.300px;color:#222;transform:scaleX(1.1884);">3.Болт М8х30</div>
<div class="t" style="left:147.4px;top:326px;font-size:14.2px;line-height:16px;letter-spacing:2.252px;color:#333;font-weight:bold;">................................</div>
<div class="t" style="left:368.6px;top:326px;font-size:14.2px;line-height:16px;letter-spacing:0.000px;color:#222;transform:scaleX(1.0130);">2</div>
<div class="t" style="left:390.8px;top:326px;font-size:14.2px;line-height:16px;letter-spacing:0.450px;color:#222;transform:scaleX(1.0531);">Шт.</div>
<div class="t" style="left:35.6px;top:338px;font-size:14.2px;line-height:16px;letter-spacing:0.300px;color:#222;transform:scaleX(1.1860);">4.Болт М10х20</div>
<div class="t" style="left:157.5px;top:338px;font-size:14.2px;line-height:16px;letter-spacing:2.252px;color:#333;font-weight:bold;">...............................</div>
<div class="t" style="left:368.6px;top:338px;font-size:14.2px;line-height:16px;letter-spacing:0.000px;color:#222;transform:scaleX(1.0130);">4</div>
<div class="t" style="left:390.8px;top:338px;font-size:14.2px;line-height:16px;letter-spacing:0.450px;color:#222;transform:scaleX(1.0531);">Шт.</div>
<div class="t" style="left:35.6px;top:351px;font-size:14.2px;line-height:16px;letter-spacing:0.300px;color:#222;transform:scaleX(1.1860);">5.Болт М10х25</div>
<div class="t" style="left:157.5px;top:351px;font-size:14.2px;line-height:16px;letter-spacing:2.252px;color:#333;font-weight:bold;">...............................</div>
<div class="t" style="left:368.6px;top:351px;font-size:14.2px;line-height:16px;letter-spacing:0.000px;color:#222;transform:scaleX(1.0130);">3</div>
<div class="t" style="left:390.8px;top:351px;font-size:14.2px;line-height:16px;letter-spacing:0.450px;color:#222;transform:scaleX(1.0531);">Шт.</div>
<div class="t" style="left:35.6px;top:364px;font-size:14.2px;line-height:16px;letter-spacing:0.300px;color:#222;transform:scaleX(1.1860);">6.Болт М10х50</div>
<div class="t" style="left:157.5px;top:364px;font-size:14.2px;line-height:16px;letter-spacing:2.252px;color:#333;font-weight:bold;">...............................</div>
<div class="t" style="left:368.6px;top:364px;font-size:14.2px;line-height:16px;letter-spacing:0.000px;color:#222;transform:scaleX(1.0130);">1</div>
<div class="t" style="left:390.8px;top:364px;font-size:14.2px;line-height:16px;letter-spacing:0.450px;color:#222;transform:scaleX(1.0531);">Шт.</div>
<div class="t" style="left:35.6px;top:377px;font-size:14.2px;line-height:16px;letter-spacing:0.300px;color:#222;transform:scaleX(1.2127);">7.Гайка закладная М8</div>
<div class="t" style="left:219.2px;top:377px;font-size:14.2px;line-height:16px;letter-spacing:2.252px;color:#333;font-weight:bold;">.....................</div>
<div class="t" style="left:368.6px;top:377px;font-size:14.2px;line-height:16px;letter-spacing:0.000px;color:#222;transform:scaleX(1.0130);">2</div>
<div class="t" style="left:390.8px;top:377px;font-size:14.2px;line-height:16px;letter-spacing:0.450px;color:#222;transform:scaleX(1.0531);">Шт.</div>
<div class="t" style="left:35.6px;top:389px;font-size:14.2px;line-height:16px;letter-spacing:0.300px;color:#222;transform:scaleX(1.2268);">8.Гайка закладная М10х65/20</div>
<div class="t" style="left:286.3px;top:389px;font-size:14.2px;line-height:16px;letter-spacing:2.252px;color:#333;font-weight:bold;">..........</div>
<div class="t" style="left:368.6px;top:389px;font-size:14.2px;line-height:16px;letter-spacing:0.000px;color:#222;transform:scaleX(1.0130);">2</div>
<div class="t" style="left:390.8px;top:389px;font-size:14.2px;line-height:16px;letter-spacing:0.450px;color:#222;transform:scaleX(1.0531);">Шт.</div>
<div class="t" style="left:35.6px;top:402px;font-size:14.2px;line-height:16px;letter-spacing:0.300px;color:#222;transform:scaleX(1.2149);">9.Гайка закладная М10х80</div>
<div class="t" style="left:258.8px;top:402px;font-size:14.2px;line-height:16px;letter-spacing:2.252px;color:#333;font-weight:bold;">...............</div>
<div class="t" style="left:368.6px;top:402px;font-size:14.2px;line-height:16px;letter-spacing:0.000px;color:#222;transform:scaleX(1.0130);">1</div>
<div class="t" style="left:390.8px;top:402px;font-size:14.2px;line-height:16px;letter-spacing:0.450px;color:#222;transform:scaleX(1.0531);">Шт.</div>
<div class="t" style="left:35.6px;top:415px;font-size:14.2px;line-height:16px;letter-spacing:0.300px;color:#222;transform:scaleX(1.2051);">10.Шайба 8</div>
<div class="t" style="left:131.4px;top:415px;font-size:14.2px;line-height:16px;letter-spacing:2.252px;color:#333;font-weight:bold;">....................................</div>
<div class="t" style="left:368.6px;top:415px;font-size:14.2px;line-height:16px;letter-spacing:0.000px;color:#222;transform:scaleX(1.0130);">8</div>
<div class="t" style="left:390.8px;top:415px;font-size:14.2px;line-height:16px;letter-spacing:0.450px;color:#222;transform:scaleX(1.0531);">Шт.</div>
<div class="t" style="left:35.6px;top:428px;font-size:14.2px;line-height:16px;letter-spacing:0.300px;color:#222;transform:scaleX(1.2062);">11.Шайба 10</div>
<div class="t" style="left:140.1px;top:428px;font-size:14.2px;line-height:16px;letter-spacing:2.252px;color:#333;font-weight:bold;">..................................</div>
<div class="t" style="left:369.8px;top:428px;font-size:14.2px;line-height:16px;letter-spacing:0.450px;color:#222;transform:scaleX(0.9665);">10</div>
<div class="t" style="left:390.8px;top:428px;font-size:14.2px;line-height:16px;letter-spacing:0.450px;color:#222;transform:scaleX(1.0531);">Шт.</div>
<div class="t" style="left:35.6px;top:440px;font-size:14.2px;line-height:16px;letter-spacing:0.300px;color:#222;transform:scaleX(1.2132);">12.Уголок</div>
<div class="t" style="left:115.9px;top:440px;font-size:14.2px;line-height:16px;letter-spacing:2.252px;color:#333;font-weight:bold;">......................................</div>
<div class="t" style="left:368.6px;top:440px;font-size:14.2px;line-height:16px;letter-spacing:0.000px;color:#222;transform:scaleX(1.0130);">2</div>
<div class="t" style="left:390.8px;top:440px;font-size:14.2px;line-height:16px;letter-spacing:0.450px;color:#222;transform:scaleX(1.0531);">Шт.</div>
<div class="t" style="left:35.6px;top:453px;font-size:14.2px;line-height:16px;letter-spacing:0.300px;color:#222;transform:scaleX(1.1738);">13.Балка</div>
<div class="t" style="left:108.9px;top:453px;font-size:14.2px;line-height:16px;letter-spacing:2.252px;color:#333;font-weight:bold;">.......................................</div>
<div class="t" style="left:368.6px;top:453px;font-size:14.2px;line-height:16px;letter-spacing:0.000px;color:#222;transform:scaleX(1.0130);">1</div>
<div class="t" style="left:390.8px;top:453px;font-size:14.2px;line-height:16px;letter-spacing:0.450px;color:#222;transform:scaleX(1.0531);">Шт.</div>
<div class="t" style="left:35.6px;top:466px;font-size:14.2px;line-height:16px;letter-spacing:0.300px;color:#222;transform:scaleX(1.1883);">14.Кронштейн</div>
<div class="t" style="left:150.9px;top:466px;font-size:14.2px;line-height:16px;letter-spacing:2.252px;color:#333;font-weight:bold;">................................</div>
<div class="t" style="left:368.6px;top:466px;font-size:14.2px;line-height:16px;letter-spacing:0.000px;color:#222;transform:scaleX(1.0130);">1</div>
<div class="t" style="left:390.8px;top:466px;font-size:14.2px;line-height:16px;letter-spacing:0.450px;color:#222;transform:scaleX(1.0531);">Шт.</div>
<div class="t" style="left:65.0px;top:526px;font-size:15.9px;line-height:17px;letter-spacing:0.450px;color:#222;transform:scaleX(1.1222);">1.Снять штатные пыльники автомобиля.</div>
<div class="t" style="left:65.0px;top:545px;font-size:15.9px;line-height:17px;letter-spacing:0.450px;color:#222;transform:scaleX(1.1314);">2.Закрепить уголки к раме автомобиля болтами</div>
<div class="t" style="left:45.3px;top:564px;font-size:15.9px;line-height:17px;letter-spacing:0.450px;color:#222;transform:scaleX(1.1413);">М10х20 и гайками закладными М10х65/20.</div>
<div class="t" style="left:65.0px;top:582px;font-size:15.9px;line-height:17px;letter-spacing:0.450px;color:#222;transform:scaleX(1.1434);">3.Закрепить к установленным уголкам балку</div>
<div class="t" style="left:45.3px;top:601px;font-size:15.9px;line-height:17px;letter-spacing:0.450px;color:#222;transform:scaleX(1.1321);">болтами М10х20. Вкрутить в балку болты М10х25</div>
<div class="t" style="left:45.3px;top:619px;font-size:15.9px;line-height:17px;letter-spacing:0.450px;color:#222;transform:scaleX(1.1286);">на несколько оборотов.</div>
<div class="t" style="left:65.0px;top:638px;font-size:15.9px;line-height:17px;letter-spacing:0.450px;color:#222;transform:scaleX(1.1212);">4.Надеть заднюю часть защиты радиатора и</div>
<div class="t" style="left:45.3px;top:656px;font-size:15.9px;line-height:17px;letter-spacing:0.450px;color:#222;transform:scaleX(1.1272);">двигателя на установленные болты М10х25,</div>
<div class="t" style="left:45.3px;top:675px;font-size:15.9px;line-height:17px;letter-spacing:0.450px;color:#222;transform:scaleX(1.1261);">переднюю и среднюю часть крепить болтами М8х25</div>
<div class="t" style="left:45.3px;top:694px;font-size:15.9px;line-height:17px;letter-spacing:0.450px;color:#222;transform:scaleX(1.1195);">в штатные резьбовые отверстия.</div>
<div class="t" style="left:526.9px;top:521px;font-size:15.9px;line-height:17px;letter-spacing:0.450px;color:#222;transform:scaleX(1.1290);">5.Закрепить кронштейн болтами М8х20 в штатные резьбовые</div>
<div class="t" style="left:507.3px;top:540px;font-size:15.9px;line-height:17px;letter-spacing:0.450px;color:#222;transform:scaleX(1.1240);">отверстия.</div>
<div class="t" style="left:526.9px;top:559px;font-size:15.9px;line-height:17px;letter-spacing:0.450px;color:#222;transform:scaleX(1.1408);">6.Установить гайки закладные М8 в отверстия поперечной балки</div>
<div class="t" style="left:507.3px;top:577px;font-size:15.9px;line-height:17px;letter-spacing:0.450px;color:#222;transform:scaleX(1.1365);">автомобиля и зафиксировать их усами. Установить гайку закладную</div>
<div class="t" style="left:507.3px;top:596px;font-size:15.9px;line-height:17px;letter-spacing:0.450px;color:#222;transform:scaleX(1.1204);">М10х80 над левым отверстием поперечной балки автомобиля.</div>
<div class="t" style="left:526.9px;top:614px;font-size:15.9px;line-height:17px;letter-spacing:0.450px;color:#222;transform:scaleX(1.1317);">7.Завести защиту КПП и РК под защиту радиатора и двигателя,</div>
<div class="t" style="left:507.3px;top:633px;font-size:15.9px;line-height:17px;letter-spacing:0.450px;color:#222;transform:scaleX(1.1209);">заднюю часть крепить болтами М8х30 и болтом М10х50. Среднюю</div>
<div class="t" style="left:507.3px;top:652px;font-size:15.9px;line-height:17px;letter-spacing:0.450px;color:#222;transform:scaleX(1.1346);">часть крепить к кронштейну болтом М10х25.</div>
<div class="t" style="left:526.9px;top:670px;font-size:15.9px;line-height:17px;letter-spacing:0.450px;color:#222;transform:scaleX(1.1255);">8.Затянуть все резьбовые соединения. Исполозование</div>
<div class="t" style="left:507.3px;top:689px;font-size:15.9px;line-height:17px;letter-spacing:0.450px;color:#222;transform:scaleX(1.1153);">пневмоинструмета запрещено</div>
<div class="t" style="left:689.9px;top:492px;font-size:11.3px;line-height:12px;letter-spacing:0.100px;color:#444;transform:scaleX(1.0477);">Диаметр резьбы</div>
<div class="t" style="left:825.0px;top:492px;font-size:11.3px;line-height:12px;letter-spacing:0.100px;color:#444;transform:scaleX(1.0761);">М6</div>
<div class="t" style="left:899.6px;top:492px;font-size:11.3px;line-height:12px;letter-spacing:0.100px;color:#444;transform:scaleX(1.0761);">М8</div>
<div class="t" style="left:971.1px;top:492px;font-size:11.3px;line-height:12px;letter-spacing:0.100px;color:#444;transform:scaleX(1.0594);">М10</div>
<div class="t" style="left:1045.2px;top:492px;font-size:11.3px;line-height:12px;letter-spacing:0.100px;color:#444;transform:scaleX(1.0594);">М12</div>
<div class="t" style="left:686.6px;top:508px;font-size:11.3px;line-height:12px;letter-spacing:0.100px;color:#444;transform:scaleX(1.0338);">Моменты затяжки</div>
<div class="t" style="left:815.5px;top:508px;font-size:11.3px;line-height:12px;letter-spacing:0.100px;color:#444;transform:scaleX(1.0205);">9.8 Нм</div>
<div class="t" style="left:888.1px;top:508px;font-size:11.3px;line-height:12px;letter-spacing:0.100px;color:#444;transform:scaleX(1.0411);">24.0Нм</div>
<div class="t" style="left:962.9px;top:508px;font-size:11.3px;line-height:12px;letter-spacing:0.100px;color:#444;transform:scaleX(1.0411);">47.0Нм</div>
<div class="t" style="left:1037.0px;top:508px;font-size:11.3px;line-height:12px;letter-spacing:0.100px;color:#444;transform:scaleX(1.0411);">81.0Нм</div>
<div class="t" style="left:764.4px;top:33px;font-size:12.5px;line-height:14px;letter-spacing:0.200px;color:#262626;transform:scaleX(1.0160);">Защита радиатора и картера</div>
<div class="t" style="left:542.1px;top:104px;font-size:12.5px;line-height:14px;letter-spacing:0.200px;color:#262626;transform:scaleX(1.0429);">Гайка закладная М10х65/20</div>
<div class="t" style="left:865.9px;top:83px;font-size:12.5px;line-height:14px;letter-spacing:0.200px;color:#262626;transform:scaleX(1.0072);">Болт М10х20</div>
<div class="t" style="left:865.9px;top:99px;font-size:12.5px;line-height:14px;letter-spacing:0.200px;color:#262626;transform:scaleX(1.0295);">Шайба 10</div>
<div class="t" style="left:655.6px;top:185px;font-size:12.5px;line-height:14px;letter-spacing:0.200px;color:#262626;transform:scaleX(1.0046);">Болт М10х20</div>
<div class="t" style="left:655.6px;top:202px;font-size:12.5px;line-height:14px;letter-spacing:0.200px;color:#262626;transform:scaleX(1.0139);">Шайба 10</div>
<div class="t" style="left:502.0px;top:220px;font-size:12.5px;line-height:14px;letter-spacing:0.200px;color:#262626;transform:scaleX(1.0298);">Гайка закладная М10х80</div>
<div class="t" style="left:557.1px;top:242px;font-size:12.5px;line-height:14px;letter-spacing:0.200px;color:#262626;transform:scaleX(1.0059);">Защита КПП и РК</div>
<div class="t" style="left:520.0px;top:267px;font-size:12.5px;line-height:14px;letter-spacing:0.200px;color:#262626;transform:scaleX(1.0160);">Кронштейн</div>
<div class="t" style="left:1053.7px;top:270px;font-size:12.5px;line-height:14px;letter-spacing:0.200px;color:#262626;transform:scaleX(0.9916);">Болт М8х25</div>
<div class="t" style="left:1049.6px;top:286px;font-size:12.5px;line-height:14px;letter-spacing:0.200px;color:#262626;transform:scaleX(1.0091);">Шайба 8</div>
<div class="t" style="left:984.4px;top:280px;font-size:12.5px;line-height:14px;letter-spacing:0.200px;color:#262626;transform:scaleX(1.0103);">Уголок</div>
<div class="t" style="left:914.8px;top:307px;font-size:12.5px;line-height:14px;letter-spacing:0.200px;color:#262626;transform:scaleX(1.0503);">Лючок</div>
<div class="t" style="left:986.5px;top:307px;font-size:12.5px;line-height:14px;letter-spacing:0.200px;color:#262626;transform:scaleX(0.9876);">Балка</div>
<div class="t" style="left:801.9px;top:331px;font-size:12.5px;line-height:14px;letter-spacing:0.200px;color:#262626;transform:scaleX(1.0058);">Болт М8х20</div>
<div class="t" style="left:801.9px;top:347px;font-size:12.5px;line-height:14px;letter-spacing:0.200px;color:#262626;transform:scaleX(1.0228);">Шайба 8</div>
<div class="t" style="left:923.0px;top:352px;font-size:12.5px;line-height:14px;letter-spacing:0.200px;color:#262626;transform:scaleX(1.0084);">Болт М10х25</div>
<div class="t" style="left:923.0px;top:368px;font-size:12.5px;line-height:14px;letter-spacing:0.200px;color:#262626;transform:scaleX(1.0174);">Шайба 10</div>
<div class="t" style="left:755.3px;top:370px;font-size:12.5px;line-height:14px;letter-spacing:0.200px;color:#262626;transform:scaleX(1.0235);">Гайка закладная М8</div>
<div class="t" style="left:736.7px;top:392px;font-size:12.5px;line-height:14px;letter-spacing:0.200px;color:#262626;transform:scaleX(1.0072);">Болт М10х25</div>
<div class="t" style="left:736.7px;top:408px;font-size:12.5px;line-height:14px;letter-spacing:0.200px;color:#262626;transform:scaleX(1.0277);">Шайба 10</div>
<div class="t" style="left:690.8px;top:431px;font-size:12.5px;line-height:14px;letter-spacing:0.200px;color:#262626;transform:scaleX(0.9902);">Болт М8х30</div>
<div class="t" style="left:690.8px;top:447px;font-size:12.5px;line-height:14px;letter-spacing:0.200px;color:#262626;transform:scaleX(1.0071);">Шайба 8</div>
<div class="t" style="left:690.8px;top:463px;font-size:12.5px;line-height:14px;letter-spacing:0.200px;color:#262626;transform:scaleX(1.0157);">Шайба 10</div>
<div class="t" style="left:541.5px;top:450px;font-size:12.5px;line-height:14px;letter-spacing:0.200px;color:#262626;transform:scaleX(1.0097);">Болт М10х50</div>
<div class="t" style="left:541.5px;top:466px;font-size:12.5px;line-height:14px;letter-spacing:0.200px;color:#262626;transform:scaleX(1.0208);">Шайба 10</div>
</div>
</body></html>
